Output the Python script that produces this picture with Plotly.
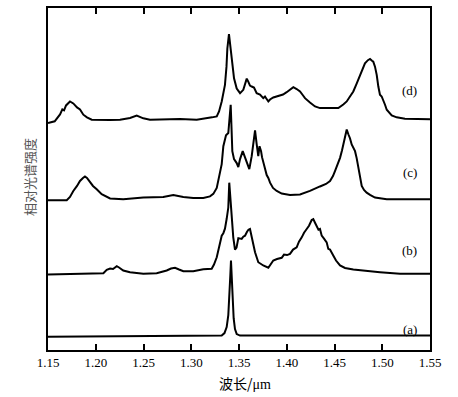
import plotly.graph_objects as go

# ---- data (wavelength in um, relative intensity above each curve's baseline) ----
wl_a = [1.150, 1.3092, 1.3319, 1.3348, 1.3371, 1.3388, 1.3398, 1.3409, 1.3416, 1.3424,
        1.3434, 1.3444, 1.3458, 1.3476, 1.3511, 1.4139, 1.550]
int_a = [0.0, 0.07, 0.12, 0.37, 0.97, 2.17, 3.67, 6.17, 7.67, 6.17,
         3.67, 1.87, 0.77, 0.27, 0.12, 0.10, 0.12]

wl_b = [1.150, 1.201, 1.208, 1.2115, 1.215, 1.2181, 1.222, 1.2244, 1.2288, 1.2359,
        1.2498, 1.2638, 1.2743, 1.2788, 1.283, 1.2872, 1.2917, 1.3021, 1.3126, 1.3214,
        1.3238, 1.3267, 1.3286, 1.3301, 1.3319, 1.3336, 1.3353, 1.3371, 1.3388, 1.3398,
        1.3409, 1.3416, 1.343, 1.344, 1.3458, 1.3474, 1.3493, 1.3511, 1.3528, 1.3545,
        1.3563, 1.3584, 1.3599, 1.3615, 1.3633, 1.3647, 1.3668, 1.3702, 1.3754, 1.3807,
        1.3836, 1.3859, 1.3898, 1.3947, 1.3971, 1.4003, 1.4034, 1.4066, 1.4104, 1.4128,
        1.4157, 1.4181, 1.4209, 1.4233, 1.4261, 1.4278, 1.4296, 1.4314, 1.4332, 1.4348,
        1.4366, 1.439, 1.4418, 1.4435, 1.4453, 1.4487, 1.4516, 1.4558, 1.461, 1.4697,
        1.4819, 1.4976, 1.5186, 1.550]
int_b = [0.0, 0.07, 0.13, 0.47, 0.6, 0.55, 0.83, 0.7, 0.4, 0.23,
         0.07, 0.13, 0.4, 0.6, 0.67, 0.5, 0.33, 0.33, 0.53, 0.57,
         1.0, 1.73, 2.6, 3.3, 3.9, 4.15, 4.6, 5.6, 6.73, 9.23,
         7.9, 6.4, 4.9, 3.73, 2.5, 2.7, 3.65, 3.6, 3.57, 3.8,
         3.9, 4.3, 4.5, 4.57, 3.73, 2.9, 2.23, 1.23, 0.9, 0.67,
         1.1, 1.4, 1.55, 1.67, 2.0, 1.95, 2.07, 2.5, 2.73, 3.3,
         3.73, 4.2, 4.57, 4.9, 5.47, 5.57, 5.2, 4.9, 4.5, 4.57,
         3.9, 3.6, 3.23, 2.57, 2.5, 1.9, 1.4, 0.9, 0.65, 0.5,
         0.35, 0.23, 0.07, 0.07]

wl_c = [1.150, 1.1696, 1.173, 1.1765, 1.1804, 1.1835, 1.1866, 1.1887, 1.1908, 1.194,
        1.1971, 1.201, 1.2062, 1.215, 1.2288, 1.2498, 1.2707, 1.2812, 1.2917, 1.3021,
        1.3126, 1.3196, 1.3231, 1.3267, 1.3283, 1.3301, 1.3319, 1.3336, 1.3364, 1.3388,
        1.340, 1.3413, 1.3421, 1.343, 1.3448, 1.3476, 1.3493, 1.3511, 1.3539, 1.3563,
        1.3584, 1.3608, 1.3633, 1.3652, 1.3668, 1.3685, 1.3702, 1.3715, 1.3731, 1.3741,
        1.3754, 1.3772, 1.379, 1.3807, 1.3825, 1.3856, 1.3895, 1.3947, 1.4034, 1.4139,
        1.4243, 1.4348, 1.4411, 1.4453, 1.4484, 1.4505, 1.4536, 1.4558, 1.4579, 1.4592,
        1.461, 1.4628, 1.4645, 1.4662, 1.468, 1.4697, 1.4715, 1.4732, 1.4749, 1.4767,
        1.4785, 1.4809, 1.4837, 1.4872, 1.4924, 1.5047, 1.550]
int_c = [0.0, 0.02, 0.35, 0.95, 1.45, 1.95, 2.25, 2.4, 2.25, 1.78,
         1.45, 1.12, 0.62, 0.2, 0.12, 0.28, 0.35, 0.55, 0.35, 0.25,
         0.25, 0.4, 0.65, 1.25, 1.95, 2.75, 3.65, 5.45, 6.55, 6.78,
         7.95, 9.62, 7.45, 4.95, 4.15, 3.75, 3.35, 4.15, 4.95, 4.25,
         3.75, 3.15, 4.45, 5.95, 7.05, 5.65, 4.45, 5.45, 4.95, 4.35,
         3.78, 3.25, 2.55, 2.25, 1.78, 1.25, 0.95, 0.68, 0.55, 0.6,
         0.95, 1.4, 1.65, 1.95, 2.45, 2.95, 3.75, 4.28, 5.05, 5.62,
         6.45, 7.12, 6.65, 6.25, 5.62, 5.35, 4.95, 4.25, 3.28, 2.35,
         1.45, 1.05, 0.78, 0.55, 0.28, 0.12, 0.12]

wl_d = [1.150, 1.157, 1.1626, 1.165, 1.1668, 1.1689, 1.173, 1.1765, 1.1804, 1.1835,
        1.187, 1.1908, 1.1958, 1.2045, 1.215, 1.2254, 1.2359, 1.2429, 1.2498, 1.2568,
        1.2707, 1.2882, 1.3057, 1.3144, 1.3217, 1.3267, 1.3291, 1.3319, 1.3336, 1.3353,
        1.3369, 1.3378, 1.3395, 1.3405, 1.3416, 1.344, 1.3448, 1.3476, 1.3493, 1.3511,
        1.3545, 1.3581, 1.3597, 1.3615, 1.3633, 1.3657, 1.3685, 1.372, 1.3754, 1.3772,
        1.3807, 1.3825, 1.3859, 1.3895, 1.393, 1.3961, 1.3999, 1.4034, 1.4069, 1.4104,
        1.4139, 1.4171, 1.4191, 1.4243, 1.4296, 1.4348, 1.4453, 1.454, 1.4592, 1.4628,
        1.4662, 1.4697, 1.4732, 1.4767, 1.4798, 1.4819, 1.485, 1.4872, 1.4893, 1.4906,
        1.4924, 1.4942, 1.4959, 1.4976, 1.4994, 1.5011, 1.5029, 1.5047, 1.5081, 1.5099,
        1.5151, 1.5238, 1.550]
int_d = [-0.17, 0.0, 0.7, 1.2, 1.1, 1.6, 2.0, 1.8, 1.4, 1.2,
         0.67, 0.4, 0.17, 0.13, 0.13, 0.17, 0.33, 0.57, 0.3, 0.17,
         0.2, 0.23, 0.17, 0.27, 0.4, 0.5, 1.0, 2.0, 2.8, 3.67,
         5.5, 7.33, 8.77, 8.0, 7.0, 5.33, 4.33, 3.3, 3.0, 2.83,
         3.17, 4.3, 4.0, 3.6, 3.5, 3.4, 2.83, 2.7, 2.33, 2.5,
         2.0, 2.2, 2.4, 2.5, 2.6, 2.7, 2.93, 3.2, 3.43, 3.25,
         3.0, 2.6, 2.33, 1.9, 1.5, 1.33, 1.3, 1.33, 1.7, 2.0,
         2.5, 3.0, 3.8, 4.67, 5.4, 5.83, 6.15, 6.27, 6.1, 6.0,
         5.5, 4.67, 3.5, 2.67, 2.5, 2.17, 1.67, 1.17, 0.83, 0.6,
         0.4, 0.27, 0.2]

series_names = ["(a)", "(b)", "(c)", "(d)"]
baselines = [1.33, 7.6, 15.05, 23.0]        # vertical offset of each spectrum
label_heights = [2.08, 10.0, 17.83, 26.1]   # where each curve's tag sits
label_wl = 1.529

x_ticks = [1.15, 1.20, 1.25, 1.30, 1.35, 1.40, 1.45, 1.50, 1.55]
x_tick_text = ["1.15", "1.20", "1.25", "1.30", "1.35", "1.40", "1.45", "1.50", "1.55"]

x_title = "波长/<span style='font-family:Liberation Serif'>μm</span>"
y_title = "相对光谱强度"

# ---- figure ----
fig = go.Figure()
curves = [(wl_a, int_a), (wl_b, int_b), (wl_c, int_c), (wl_d, int_d)]
for (wl, inten), base, name in zip(curves, baselines, series_names):
    fig.add_trace(go.Scatter(
        x=wl, y=[v + base for v in inten], mode="lines", name=name,
        line=dict(color="black", width=2), showlegend=False, hoverinfo="skip"))

for name, h in zip(series_names, label_heights):
    fig.add_annotation(x=label_wl, y=h, xref="x", yref="y", text=name,
                       showarrow=False, font=dict(family="Liberation Serif", size=13, color="black"))

fig.add_annotation(x=0.516, y=-0.096, xref="paper", yref="paper", text=x_title,
                   showarrow=False, xanchor="center", yanchor="middle",
                   font=dict(family="Noto Sans CJK SC", size=14, color="black"))
fig.add_annotation(x=-0.047, y=0.506, xref="paper", yref="paper", text=y_title,
                   showarrow=False, textangle=-90, xanchor="center", yanchor="middle",
                   font=dict(family="Noto Sans CJK SC", size=13, color="#555555"))

fig.update_layout(
    width=458, height=397,
    margin=dict(l=48, r=28, t=6, b=47),
    paper_bgcolor="white", plot_bgcolor="white",
    xaxis=dict(range=[1.15, 1.55], tickvals=x_ticks, ticktext=x_tick_text,
               ticks="inside", ticklen=6, tickwidth=1.5, tickcolor="black",
               showline=True, linecolor="black", linewidth=1.5, mirror="ticks",
               showgrid=False, zeroline=False,
               tickfont=dict(family="Liberation Serif", size=13, color="black")),
    yaxis=dict(range=[0, 34.4], showticklabels=False, ticks="",
               showline=True, linecolor="black", linewidth=1.5, mirror=True,
               showgrid=False, zeroline=False),
)

fig.write_html("out.html", config={"displayModeBar": False},
               post_script="document.body.style.margin='0px';")
